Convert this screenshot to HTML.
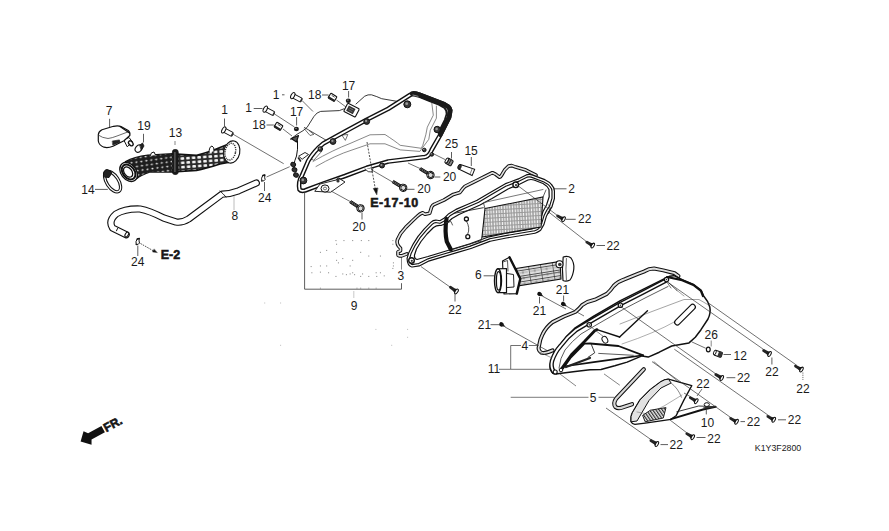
<!DOCTYPE html>
<html><head><meta charset="utf-8"><style>
html,body{margin:0;padding:0;background:#fff;}
svg{display:block;font-family:"Liberation Sans",sans-serif;}
text{fill:#1a1a1a;}
</style></head><body>
<svg width="889" height="531" viewBox="0 0 889 531">
<rect width="889" height="531" fill="#fff"/>
<line x1="109.6" y1="118.8" x2="109.6" y2="128.0" stroke="#333" stroke-width="0.8"/>
<line x1="143.5" y1="133.8" x2="143.5" y2="142.5" stroke="#333" stroke-width="0.8"/>
<line x1="95.0" y1="189.4" x2="107.8" y2="189.4" stroke="#333" stroke-width="0.8"/>
<line x1="175.0" y1="141.0" x2="175.0" y2="145.0" stroke="#333" stroke-width="0.6"/>
<path d="M124,139.5 L129,137.5 L132.5,142 L127.5,146.5 Z" stroke="#111" stroke-width="1" fill="#fff" stroke-linejoin="round" stroke-linecap="round" />
<ellipse cx="130.8" cy="143.3" rx="1.9" ry="2.8" transform="rotate(-40 130.8 143.3)" fill="#fff" stroke="#111" stroke-width="1.3"/>
<path d="M98.3,134.8 Q98.5,131.5 102,129.8 L113.5,126.3 Q118,125.3 121,126.5 L128.2,130.5 Q130.5,132.5 129.8,135.5 L124,140.8 L113,146.2 Q108,148.2 104,147.2 Q99,145.5 98.3,141 Z" stroke="#111" stroke-width="1.2" fill="#fff" stroke-linejoin="round" stroke-linecap="round" />
<path d="M99,135.5 Q102,137.8 108,138.5 Q112,138 117,136 L129,131.5" stroke="#444" stroke-width="0.8" fill="none" stroke-linejoin="round" stroke-linecap="round" />
<path d="M120,126.5 L129.5,133" stroke="#111" stroke-width="1.3" fill="none" stroke-linejoin="round" stroke-linecap="round" />
<path d="M112.6,141 L119.4,139.9 L120,142.3 L113,145 Z" stroke="#111" stroke-width="0.6" fill="#222" stroke-linejoin="round" stroke-linecap="round" />
<ellipse cx="138.6" cy="148.6" rx="3" ry="4" transform="rotate(40 138.6 148.6)" fill="#fff" stroke="#111" stroke-width="1.1"/>
<path d="M140,145 L142.5,143 L144,146 L141.5,150 Z" stroke="#111" stroke-width="0.8" fill="#222" stroke-linejoin="round" stroke-linecap="round" />
<g transform="translate(112.6,181.6) rotate(57)"><ellipse rx="11.6" ry="5.9" fill="none" stroke="#111" stroke-width="3.3"/><ellipse rx="11.6" ry="5.9" fill="none" stroke="#fff" stroke-width="1.2"/></g>
<path d="M103.5,173.5 Q104,169.5 107.5,169.5 L112,172.5 L109,177.5 L104.5,177 Z" stroke="#111" stroke-width="1" fill="#222" stroke-linejoin="round" stroke-linecap="round" />
<defs><pattern id="hosegrid" width="5.6" height="4.3" patternUnits="userSpaceOnUse" patternTransform="rotate(-4) translate(0,1)"><rect width="5.6" height="4.3" fill="#2a2a2a"/><rect x="1.1" y="0.9" width="3.6" height="2.5" rx="0.8" fill="#f2f2f2"/></pattern><pattern id="hosegrid2" width="5" height="4.3" patternUnits="userSpaceOnUse" patternTransform="rotate(-8) translate(0,1)"><rect width="5" height="4.3" fill="#1e1e1e"/><rect x="1.5" y="1.4" width="2" height="1.6" rx="0.6" fill="#e8e8e8"/></pattern><clipPath id="hoseclip"><path d="M125.7,161.7 Q134,157 147.8,155.4 L173,153.9 L196.6,155.4 Q210,152 220,147.6 L229.7,143.6 L232.8,161.7 L220,164 Q205,169 196.6,170.4 L173,172 L149.4,172 Q141,175 136.8,178.3 Z"/></clipPath></defs>
<path d="M125.7,161.7 Q134,157 147.8,155.4 L173,153.9 L196.6,155.4 Q210,152 220,147.6 L229.7,143.6 L232.8,161.7 L220,164 Q205,169 196.6,170.4 L173,172 L149.4,172 Q141,175 136.8,178.3 Z" fill="url(#hosegrid)" stroke="#111" stroke-width="1.6"/>
<g clip-path="url(#hoseclip)"><rect x="120" y="140" width="52" height="45" fill="url(#hosegrid2)"/></g>
<g transform="translate(128.6,172) rotate(52)"><ellipse rx="10.6" ry="7.6" fill="#fff" stroke="#111" stroke-width="1.3"/><ellipse rx="8.3" ry="5.8" fill="#fff" stroke="#111" stroke-width="2"/><ellipse cx="-0.3" cy="0.4" rx="5.7" ry="3.8" fill="#fff" stroke="#111" stroke-width="1.3"/></g>
<g transform="translate(231.8,152) rotate(12)"><ellipse rx="8" ry="11.2" fill="#fff" stroke="#111" stroke-width="1.1"/><ellipse cx="-1.5" rx="5.2" ry="8.5" fill="none" stroke="#333" stroke-width="1.4" stroke-dasharray="1.2 1"/></g>
<rect x="172.4" y="149.5" width="5.8" height="25" rx="2.4" fill="#1a1a1a" stroke="#111" stroke-width="0.8"/>
<rect x="174.3" y="152" width="1.2" height="20" fill="#666"/>
<path d="M150,156 Q151,151.5 154,152 L155.5,155" stroke="#111" stroke-width="1" fill="#fff" stroke-linejoin="round" stroke-linecap="round" />
<path d="M209,153 Q209,146.5 212,146 Q214.5,147 214,151" stroke="#111" stroke-width="1" fill="#fff" stroke-linejoin="round" stroke-linecap="round" />
<path d="M256.3,183 L238.6,190.8 Q230,194 222,194.2 L188.6,219 Q182,223 176,222 L163.7,218 Q150,211 140,209 Q125,208.5 116,214 Q108,221 112.5,228 L126.2,234.7" fill="none" stroke="#111" stroke-width="7.2" stroke-linecap="round" stroke-linejoin="round"/>
<path d="M256.3,183 L238.6,190.8 Q230,194 222,194.2 L188.6,219 Q182,223 176,222 L163.7,218 Q150,211 140,209 Q125,208.5 116,214 Q108,221 112.5,228 L126.2,234.7" fill="none" stroke="#fff" stroke-width="5" stroke-linecap="round" stroke-linejoin="round"/>
<path d="M117.5,228.5 L116.5,230.8" stroke="#111" stroke-width="1" fill="none" stroke-linejoin="round" stroke-linecap="round" />
<ellipse cx="126.8" cy="234.6" rx="1.5" ry="2.7" transform="rotate(30 126.8 234.6)" fill="#fff" stroke="#111" stroke-width="1.1"/>
<path d="M220,191 Q223,193.5 226,197" stroke="#111" stroke-width="0.9" fill="none" stroke-linejoin="round" stroke-linecap="round" />
<line x1="234.0" y1="196.5" x2="234.0" y2="210.0" stroke="#555" stroke-width="0.8" stroke-dasharray="1 1"/>
<path d="M261.8,181 Q260.8,178 262.8,175.5 L264.90000000000003,175 Q264.3,177.5 265.1,179.5 Q264.3,181.5 261.8,181 Z" stroke="#111" stroke-width="1" fill="#fff" stroke-linejoin="round" stroke-linecap="round" />
<path d="M262.8,175.5 L264.90000000000003,175" stroke="#111" stroke-width="1.3" fill="none" stroke-linejoin="round" stroke-linecap="round" />
<path d="M136.2,244.5 Q135.2,241.5 137.2,239.0 L139.29999999999998,238.5 Q138.7,241.0 139.5,243.0 Q138.7,245.0 136.2,244.5 Z" stroke="#111" stroke-width="1" fill="#fff" stroke-linejoin="round" stroke-linecap="round" />
<path d="M137.2,239.0 L139.29999999999998,238.5" stroke="#111" stroke-width="1.3" fill="none" stroke-linejoin="round" stroke-linecap="round" />
<line x1="264.5" y1="182.0" x2="264.5" y2="191.0" stroke="#333" stroke-width="0.8"/>
<line x1="137.8" y1="245.5" x2="137.8" y2="256.0" stroke="#333" stroke-width="0.8"/>
<line x1="266.5" y1="177.0" x2="289.7" y2="166.7" stroke="#333" stroke-width="0.7"/>
<line x1="140.5" y1="243.5" x2="154.0" y2="251.2" stroke="#222" stroke-width="0.8" stroke-dasharray="1.6 1"/>
<path d="M157,252.6 L152.5,251.9 L154,249.2 Z" stroke="#111" stroke-width="0.4" fill="#111" stroke-linejoin="round" stroke-linecap="round" />
<g transform="translate(223.5,129.8) rotate(28)"><rect x="0" y="-2.1" width="10" height="4.2" rx="1" fill="#fff" stroke="#111" stroke-width="1"/><ellipse cx="0.3" cy="0" rx="1.7" ry="3.4" fill="#fff" stroke="#111" stroke-width="1"/><ellipse cx="10" cy="0" rx="0.9" ry="2.1" fill="#333"/></g>
<g transform="translate(265,109) rotate(28)"><rect x="0" y="-2.1" width="10" height="4.2" rx="1" fill="#fff" stroke="#111" stroke-width="1"/><ellipse cx="0.3" cy="0" rx="1.7" ry="3.4" fill="#fff" stroke="#111" stroke-width="1"/><ellipse cx="10" cy="0" rx="0.9" ry="2.1" fill="#333"/></g>
<g transform="translate(292.5,95.5) rotate(28)"><rect x="0" y="-2.1" width="10" height="4.2" rx="1" fill="#fff" stroke="#111" stroke-width="1"/><ellipse cx="0.3" cy="0" rx="1.7" ry="3.4" fill="#fff" stroke="#111" stroke-width="1"/><ellipse cx="10" cy="0" rx="0.9" ry="2.1" fill="#333"/></g>
<line x1="224.5" y1="118.5" x2="224.5" y2="126.5" stroke="#333" stroke-width="0.8"/>
<line x1="253.7" y1="108.5" x2="262.5" y2="108.5" stroke="#333" stroke-width="0.8"/>
<line x1="282.0" y1="94.8" x2="284.5" y2="94.8" stroke="#333" stroke-width="0.8"/>
<line x1="233.0" y1="134.2" x2="283.7" y2="163.7" stroke="#333" stroke-width="0.7"/>
<line x1="274.5" y1="114.0" x2="294.5" y2="127.0" stroke="#333" stroke-width="0.7"/>
<line x1="302.0" y1="100.5" x2="313.0" y2="111.5" stroke="#333" stroke-width="0.7"/>
<g transform="translate(278.5,126.3) rotate(32)"><rect x="-3.6" y="-2.8" width="7.2" height="5.6" rx="0.8" fill="#fff" stroke="#111" stroke-width="1.1"/><rect x="-3.6" y="1" width="7.2" height="1.8" fill="#222"/><path d="M-1.8,-1.2 L1.8,-1.2" stroke="#444" stroke-width="0.8"/></g>
<g transform="translate(332.5,97.3) rotate(32)"><rect x="-3.6" y="-2.8" width="7.2" height="5.6" rx="0.8" fill="#fff" stroke="#111" stroke-width="1.1"/><rect x="-3.6" y="1" width="7.2" height="1.8" fill="#222"/><path d="M-1.8,-1.2 L1.8,-1.2" stroke="#444" stroke-width="0.8"/></g>
<line x1="266.5" y1="125.0" x2="273.8" y2="125.0" stroke="#333" stroke-width="0.8"/>
<line x1="322.0" y1="95.0" x2="328.6" y2="95.0" stroke="#333" stroke-width="0.8"/>
<line x1="283.0" y1="129.0" x2="292.0" y2="136.0" stroke="#333" stroke-width="0.7"/>
<line x1="336.5" y1="100.0" x2="346.0" y2="107.0" stroke="#333" stroke-width="0.7"/>
<ellipse cx="296.4" cy="129" rx="2.5" ry="2.3" fill="#1a1a1a"/>
<ellipse cx="296.0" cy="128.3" rx="1" ry="0.6" fill="#888"/>
<ellipse cx="348.3" cy="100.8" rx="2.5" ry="2.3" fill="#1a1a1a"/>
<ellipse cx="347.90000000000003" cy="100.1" rx="1" ry="0.6" fill="#888"/>
<line x1="296.6" y1="117.0" x2="296.6" y2="125.5" stroke="#333" stroke-width="0.8"/>
<line x1="348.6" y1="91.0" x2="348.6" y2="97.5" stroke="#333" stroke-width="0.8"/>
<path d="M290.8,139 L297,134.3 Q304,130.5 307,127.5 L313.9,116.5 Q317,112 320.7,111.4 L339.3,110.6 L344,108.8 M356,104 L364.7,96.2 Q368,94.3 371.5,94.8 Q377,96.5 381.7,98.7 L398,101.5 L409,97" stroke="#222" stroke-width="0.9" fill="none" stroke-linejoin="round" stroke-linecap="round" />
<g transform="translate(351.5,110.2) rotate(27)"><rect x="-6.5" y="-4.6" width="13" height="9.2" rx="1" fill="#fff" stroke="#111" stroke-width="1.1"/><rect x="-4.5" y="-3" width="7.5" height="6" fill="#333"/><path d="M-3,-1 L1.5,-1 M-3,1 L1.5,1" stroke="#888" stroke-width="0.6"/></g>
<path d="M290.8,139 Q296,137 297.5,141 Q298,150 296.5,156 Q294.5,161 294,164" stroke="#111" stroke-width="1" fill="none" stroke-linejoin="round" stroke-linecap="round" />
<path d="M291.2,138.5 L298.5,135.5 L296.5,142 Z" stroke="#111" stroke-width="1.1" fill="#555" stroke-linejoin="round" stroke-linecap="round" />
<path d="M304.4,127.5 L326.1,140.2" stroke="#222" stroke-width="0.8" fill="none" stroke-linejoin="round" stroke-linecap="round" />
<path d="M304.4,128.9 L310.1,135.5 L313.9,134.3 L309.5,131" stroke="#333" stroke-width="0.7" fill="none" stroke-linejoin="round" stroke-linecap="round" />
<path d="M342.2,135 L347.8,134.5 L345.5,140 Z" stroke="#333" stroke-width="0.7" fill="#fff" stroke-linejoin="round" stroke-linecap="round" />
<path d="M310,158 L318,150 L322,151 L314,160 Z" stroke="#333" stroke-width="0.7" fill="#fff" stroke-linejoin="round" stroke-linecap="round" />
<path d="M313,161.5 Q333,150 350,143.5 L370,134.8 L385,134.5 Q395,141 400.2,145.3 L421.3,148.3 L422.8,145.3 L425.8,134.8 L427.3,127.2 L433.3,115.2 L431.8,103.1" stroke="#555" stroke-width="0.7" fill="none" stroke-linejoin="round" stroke-linecap="round" />
<path d="M316,166.5 Q336,155 352,150 L370,143.8 L385,143.8 L400.2,149.9 L419.8,151.4 L428.8,139.3 L430.3,130.2 L436.4,118.2 L436.4,106.1" stroke="#555" stroke-width="0.7" fill="none" stroke-linejoin="round" stroke-linecap="round" />
<path d="M299.5,189.5 Q298,182 301.7,176 L308.2,160.8 Q314,151 323.3,143.5 L345,131.6 L366.7,119.7 L388.3,108.8 L410,95 Q414.3,92.5 418.6,94.5 L444.6,104.5 Q451,107.5 450,112 L449,117.5 L440.3,134.8 L431.6,150 Q429.5,156 425,157 L388.3,161.5 L366.7,167.8 L345,176 L323.3,183.6 L305,190.5 Q301,191.5 299.5,189.5 Z" fill="none" stroke="#111" stroke-width="4.6" stroke-linejoin="round"/>
<path d="M299.5,189.5 Q298,182 301.7,176 L308.2,160.8 Q314,151 323.3,143.5 L345,131.6 L366.7,119.7 L388.3,108.8 L410,95 Q414.3,92.5 418.6,94.5 L444.6,104.5 Q451,107.5 450,112 L449,117.5 L440.3,134.8 L431.6,150 Q429.5,156 425,157 L388.3,161.5 L366.7,167.8 L345,176 L323.3,183.6 L305,190.5 Q301,191.5 299.5,189.5 Z" fill="none" stroke="#fff" stroke-width="1.8" stroke-linejoin="round"/>
<path d="M412,93.6 Q414.3,92.5 418.6,94.5 L444.6,104.5 Q451,107.5 450,112 L449,117.5 L440.3,134.8" stroke="#1a1a1a" stroke-width="4.6" fill="none" stroke-linejoin="round" stroke-linecap="round" />
<path d="M413,95.5 L419.2,97 L429,100.8 L438.8,104.7 L444.5,108 Q447,110.5 446.6,114 L444.8,119.8 L441.5,126.5 L438.5,133" stroke="#1a1a1a" stroke-width="1.8" fill="none" stroke-linejoin="round" stroke-linecap="round" />
<path d="M413,95 L418,96.3" stroke="#888" stroke-width="1" fill="none" stroke-linejoin="round" stroke-linecap="round" />
<circle cx="366.7" cy="121.5" r="2.9" fill="#3a3a3a" stroke="#111" stroke-width="1"/>
<circle cx="366.09999999999997" cy="120.9" r="1.1" fill="#999"/>
<circle cx="333" cy="141.5" r="2.9" fill="#3a3a3a" stroke="#111" stroke-width="1"/>
<circle cx="332.4" cy="140.9" r="1.1" fill="#999"/>
<circle cx="407.3" cy="104.3" r="3.5" fill="#3a3a3a" stroke="#111" stroke-width="1"/>
<circle cx="406.7" cy="103.7" r="1.4" fill="#999"/>
<circle cx="437.2" cy="129.5" r="3.2" fill="#3a3a3a" stroke="#111" stroke-width="1"/>
<circle cx="436.59999999999997" cy="128.9" r="1.3" fill="#999"/>
<circle cx="424.3" cy="150" r="1.8" fill="#3a3a3a" stroke="#111" stroke-width="1"/>
<circle cx="423.7" cy="149.4" r="0.7" fill="#999"/>
<circle cx="431.8" cy="154.4" r="1.8" fill="#3a3a3a" stroke="#111" stroke-width="1"/>
<circle cx="431.2" cy="153.8" r="0.7" fill="#999"/>
<circle cx="382" cy="165.5" r="2.5" fill="#3a3a3a" stroke="#111" stroke-width="1"/>
<circle cx="381.4" cy="164.9" r="1.0" fill="#999"/>
<circle cx="303.4" cy="180.5" r="3.4" fill="#3a3a3a" stroke="#111" stroke-width="1"/>
<circle cx="302.79999999999995" cy="179.9" r="1.3" fill="#999"/>
<circle cx="338.6" cy="180" r="2.0" fill="#3a3a3a" stroke="#111" stroke-width="1"/>
<circle cx="338.0" cy="179.4" r="0.8" fill="#999"/>
<circle cx="320.3" cy="149" r="2.3" fill="#3a3a3a" stroke="#111" stroke-width="1"/>
<circle cx="319.7" cy="148.4" r="0.9" fill="#999"/>
<ellipse cx="293.2" cy="164.5" rx="2.4" ry="2.1" transform="rotate(30 293.2 164.5)" fill="#333" stroke="#111" stroke-width="1"/>
<ellipse cx="294.5" cy="169.8" rx="2.4" ry="2.1" transform="rotate(30 294.5 169.8)" fill="#333" stroke="#111" stroke-width="1"/>
<ellipse cx="296" cy="175" rx="2.4" ry="2.1" transform="rotate(30 296 175)" fill="#333" stroke="#111" stroke-width="1"/>
<path d="M299,156 L305,152.5 L308.5,154.5 L302.5,159 Z" stroke="#111" stroke-width="0.9" fill="#fff" stroke-linejoin="round" stroke-linecap="round" />
<path d="M298.5,158 L300.5,161" stroke="#222" stroke-width="1.6" fill="none" stroke-linejoin="round" stroke-linecap="round" />
<path d="M315,191 L320,184 L340,179 L345,182 L331,192 Z" stroke="#111" stroke-width="0.9" fill="#fff" stroke-linejoin="round" stroke-linecap="round" />
<ellipse cx="325" cy="188.5" rx="4" ry="3.6" fill="#fff" stroke="#111" stroke-width="1"/>
<ellipse cx="325" cy="188.5" rx="1.6" ry="1.4" fill="#fff" stroke="#333" stroke-width="0.7"/>
<circle cx="338" cy="181" r="1.6" fill="#333"/>
<path d="M365,169 Q368,173 372,172 L373,168" stroke="#111" stroke-width="0.8" fill="#fff" stroke-linejoin="round" stroke-linecap="round" />
<g transform="translate(430.5,175.0) rotate(211.0)"><rect x="2" y="-1.35" width="10.0" height="2.7" fill="#666" stroke="#111" stroke-width="0.8"/><path d="M4,-1.3 L4.6,1.3 M6,-1.3 L6.6,1.3 M8,-1.3 L8.6,1.3 M10,-1.3 L10.6,1.3" stroke="#111" stroke-width="0.7"/><circle cx="0" cy="0" r="3.6" fill="#fff" stroke="#111" stroke-width="1.1"/><path d="M-1.8,-2.2 L1.2,-2.4 L2.6,0 L1.2,2.4 L-1.8,2.2 L-2.6,0 Z" fill="#ddd" stroke="#111" stroke-width="0.9"/></g>
<g transform="translate(403.2,187.8) rotate(211.0)"><rect x="2" y="-1.35" width="10.0" height="2.7" fill="#666" stroke="#111" stroke-width="0.8"/><path d="M4,-1.3 L4.6,1.3 M6,-1.3 L6.6,1.3 M8,-1.3 L8.6,1.3 M10,-1.3 L10.6,1.3" stroke="#111" stroke-width="0.7"/><circle cx="0" cy="0" r="3.6" fill="#fff" stroke="#111" stroke-width="1.1"/><path d="M-1.8,-2.2 L1.2,-2.4 L2.6,0 L1.2,2.4 L-1.8,2.2 L-2.6,0 Z" fill="#ddd" stroke="#111" stroke-width="0.9"/></g>
<g transform="translate(360.5,208.3) rotate(213.0)"><rect x="2" y="-1.35" width="10.0" height="2.7" fill="#666" stroke="#111" stroke-width="0.8"/><path d="M4,-1.3 L4.6,1.3 M6,-1.3 L6.6,1.3 M8,-1.3 L8.6,1.3 M10,-1.3 L10.6,1.3" stroke="#111" stroke-width="0.7"/><circle cx="0" cy="0" r="3.6" fill="#fff" stroke="#111" stroke-width="1.1"/><path d="M-1.8,-2.2 L1.2,-2.4 L2.6,0 L1.2,2.4 L-1.8,2.2 L-2.6,0 Z" fill="#ddd" stroke="#111" stroke-width="0.9"/></g>
<line x1="434.4" y1="177.0" x2="440.3" y2="177.0" stroke="#333" stroke-width="0.8"/>
<line x1="406.0" y1="189.3" x2="414.5" y2="189.3" stroke="#333" stroke-width="0.8"/>
<line x1="362.0" y1="212.5" x2="362.0" y2="219.5" stroke="#333" stroke-width="0.8"/>
<line x1="420.0" y1="168.5" x2="408.0" y2="163.0" stroke="#333" stroke-width="0.7"/>
<line x1="392.5" y1="182.0" x2="371.0" y2="169.5" stroke="#333" stroke-width="0.7"/>
<line x1="351.0" y1="202.0" x2="331.0" y2="191.0" stroke="#333" stroke-width="0.7"/>
<g transform="translate(449.3,162) rotate(30)"><rect x="-3.2" y="-3" width="6.4" height="6" rx="1.2" fill="#888" stroke="#111" stroke-width="1"/><path d="M-1.5,-3 L-1.5,3 M0.5,-3 L0.5,3" stroke="#111" stroke-width="0.8"/><ellipse cx="-3" cy="0" rx="1.2" ry="2.8" fill="#fff" stroke="#111" stroke-width="0.9"/></g>
<line x1="451.5" y1="152.0" x2="451.5" y2="158.5" stroke="#333" stroke-width="0.8"/>
<line x1="445.0" y1="159.5" x2="432.0" y2="153.0" stroke="#333" stroke-width="0.7"/>
<g transform="translate(459.5,166.8) rotate(22)"><path d="M0,-2.4 L15,-3.4 L15,3.4 L0,2.4 Z" fill="#fff" stroke="#111" stroke-width="1"/><ellipse cx="0" cy="0" rx="1.6" ry="2.5" fill="#333" stroke="#111" stroke-width="0.8"/><path d="M12.5,-3.2 L12.5,3.2" stroke="#555" stroke-width="0.7"/></g>
<line x1="471.3" y1="157.0" x2="471.3" y2="166.0" stroke="#333" stroke-width="0.8"/>
<line x1="367.0" y1="142.0" x2="375.5" y2="190.0" stroke="#222" stroke-width="0.8" stroke-dasharray="2 1.3"/>
<path d="M376.6,194.5 L373.3,188.5 L377.6,188 Z" stroke="#111" stroke-width="0.5" fill="#111" stroke-linejoin="round" stroke-linecap="round" />
<line x1="304.6" y1="192.0" x2="304.6" y2="289.2" stroke="#333" stroke-width="0.8"/>
<line x1="304.6" y1="289.2" x2="401.5" y2="289.2" stroke="#333" stroke-width="0.8"/>
<line x1="401.5" y1="283.2" x2="401.5" y2="289.2" stroke="#333" stroke-width="0.8"/>
<line x1="353.8" y1="291.5" x2="353.8" y2="298.0" stroke="#666" stroke-width="0.7" stroke-dasharray="1 1"/>
<line x1="401.5" y1="257.0" x2="401.5" y2="269.6" stroke="#555" stroke-width="0.7"/>
<rect x="264.2" y="302.5" width="1" height="1" fill="#bbb"/>
<rect x="280.1" y="302.5" width="1" height="1" fill="#bbb"/>
<rect x="375.4" y="328.9" width="1" height="1" fill="#bbb"/>
<rect x="407.1" y="328.9" width="1" height="1" fill="#bbb"/>
<rect x="407.1" y="336.8" width="1" height="1" fill="#bbb"/>
<rect x="280.1" y="344.8" width="1" height="1" fill="#bbb"/>
<rect x="391.2" y="344.8" width="1" height="1" fill="#bbb"/>
<rect x="335.4" y="240.0" width="1.1" height="1.1" fill="#999"/>
<rect x="336.0" y="243.7" width="1.1" height="1.1" fill="#999"/>
<rect x="343.4" y="240.0" width="1.1" height="1.1" fill="#999"/>
<rect x="352.1" y="240.0" width="1.1" height="1.1" fill="#999"/>
<rect x="360.8" y="240.0" width="1.1" height="1.1" fill="#999"/>
<rect x="368.2" y="240.0" width="1.1" height="1.1" fill="#999"/>
<rect x="392.3" y="240.0" width="1.1" height="1.1" fill="#999"/>
<rect x="392.3" y="243.7" width="1.1" height="1.1" fill="#999"/>
<rect x="326.1" y="249.9" width="1.1" height="1.1" fill="#999"/>
<rect x="319.9" y="251.8" width="1.1" height="1.1" fill="#999"/>
<rect x="336.0" y="251.8" width="1.1" height="1.1" fill="#999"/>
<rect x="360.1" y="251.8" width="1.1" height="1.1" fill="#999"/>
<rect x="368.2" y="255.5" width="1.1" height="1.1" fill="#999"/>
<rect x="379.9" y="255.5" width="1.1" height="1.1" fill="#999"/>
<rect x="342.2" y="258.0" width="1.1" height="1.1" fill="#999"/>
<rect x="336.0" y="259.8" width="1.1" height="1.1" fill="#999"/>
<rect x="352.1" y="259.8" width="1.1" height="1.1" fill="#999"/>
<rect x="337.9" y="262.3" width="1.1" height="1.1" fill="#999"/>
<rect x="319.9" y="265.4" width="1.1" height="1.1" fill="#999"/>
<rect x="326.1" y="265.4" width="1.1" height="1.1" fill="#999"/>
<rect x="310.6" y="266.0" width="1.1" height="1.1" fill="#999"/>
<rect x="349.6" y="265.4" width="1.1" height="1.1" fill="#999"/>
<rect x="392.9" y="262.3" width="1.1" height="1.1" fill="#999"/>
<rect x="392.9" y="265.4" width="1.1" height="1.1" fill="#999"/>
<rect x="392.3" y="267.9" width="1.1" height="1.1" fill="#999"/>
<rect x="311.3" y="272.2" width="1.1" height="1.1" fill="#999"/>
<rect x="319.9" y="271.6" width="1.1" height="1.1" fill="#999"/>
<rect x="328.0" y="272.2" width="1.1" height="1.1" fill="#999"/>
<rect x="335.4" y="275.9" width="1.1" height="1.1" fill="#999"/>
<rect x="342.2" y="273.4" width="1.1" height="1.1" fill="#999"/>
<rect x="345.9" y="274.1" width="1.1" height="1.1" fill="#999"/>
<rect x="349.6" y="273.4" width="1.1" height="1.1" fill="#999"/>
<rect x="352.1" y="272.2" width="1.1" height="1.1" fill="#999"/>
<rect x="354.0" y="274.1" width="1.1" height="1.1" fill="#999"/>
<rect x="360.1" y="275.9" width="1.1" height="1.1" fill="#999"/>
<rect x="362.0" y="273.4" width="1.1" height="1.1" fill="#999"/>
<rect x="368.2" y="275.9" width="1.1" height="1.1" fill="#999"/>
<rect x="375.6" y="272.2" width="1.1" height="1.1" fill="#999"/>
<rect x="376.2" y="275.9" width="1.1" height="1.1" fill="#999"/>
<rect x="379.9" y="272.2" width="1.1" height="1.1" fill="#999"/>
<rect x="383.7" y="275.3" width="1.1" height="1.1" fill="#999"/>
<rect x="319.9" y="287.7" width="1.1" height="1.1" fill="#999"/>
<rect x="356.4" y="287.7" width="1.1" height="1.1" fill="#999"/>
<rect x="360.1" y="287.7" width="1.1" height="1.1" fill="#999"/>
<rect x="368.2" y="287.7" width="1.1" height="1.1" fill="#999"/>
<rect x="375.6" y="287.7" width="1.1" height="1.1" fill="#999"/>
<path d="M406.8,253.9 L401.6,255.9 Q398,256 398,254.9 L398,251.8 L400.5,250.8 L400.5,248.2 L398.5,246.1 Q396.5,243.5 397.4,239.9 L400.5,233.7 L405.7,227.4 L412,221.2 L417,216.5 Q420,213.5 422.6,212.7 L425,214.2 L429.7,213.3 L431.6,207 Q432.5,205 434.4,204.3 L443.9,200.1 L453.3,194.4 L459.9,192.5 L462.7,188.8 L465.1,186.3 L475.2,181.3 L485.4,176.2 L492.4,172.7 L495.5,174.2 L499.5,177.2 Q500.5,177 501.6,175.2 L504.6,170.1 L508.6,166.1 L511.7,165.6 L515.7,167.1 L525.9,170.1 L536,175.2" fill="none" stroke="#111" stroke-width="3.6" stroke-linejoin="round" stroke-linecap="round"/>
<path d="M406.8,253.9 L401.6,255.9 Q398,256 398,254.9 L398,251.8 L400.5,250.8 L400.5,248.2 L398.5,246.1 Q396.5,243.5 397.4,239.9 L400.5,233.7 L405.7,227.4 L412,221.2 L417,216.5 Q420,213.5 422.6,212.7 L425,214.2 L429.7,213.3 L431.6,207 Q432.5,205 434.4,204.3 L443.9,200.1 L453.3,194.4 L459.9,192.5 L462.7,188.8 L465.1,186.3 L475.2,181.3 L485.4,176.2 L492.4,172.7 L495.5,174.2 L499.5,177.2 Q500.5,177 501.6,175.2 L504.6,170.1 L508.6,166.1 L511.7,165.6 L515.7,167.1 L525.9,170.1 L536,175.2" fill="none" stroke="#e4e4e4" stroke-width="1.6" stroke-linejoin="round" stroke-linecap="round"/>
<path d="M412,265.8 Q408.5,265 408.3,258.5 L409.9,253.3 L414,245 L419.2,236.8 L425.4,229.5 L431.6,223.3 Q434,221 437,221.5 L440,222 L445,219.1 L449.4,214.8 L456.5,210.5 L467.8,205.6 L477.7,201.4 L490,194 L506,184.8 L518.8,180 L526.8,176 Q529,175.2 531.6,176 L544.4,180.8 Q549,183 550.8,185.6 Q553.5,188.5 553.2,192 L553.2,198.4 L550.8,206.4 L547.6,211.2 L545.2,216 L542.8,224 L539.6,229.6 Q537,231.5 534.8,232 L506,236.8 L490,240 L470.6,247.3 L456.5,251.5 L442.4,255.7 L428.2,260 L419.2,264.7 Z" fill="#fff" stroke="none"/>
<path d="M412,265.8 Q408.5,265 408.3,258.5 L409.9,253.3 L414,245 L419.2,236.8 L425.4,229.5 L431.6,223.3 Q434,221 437,221.5 L440,222 L445,219.1 L449.4,214.8 L456.5,210.5 L467.8,205.6 L477.7,201.4 L490,194 L506,184.8 L518.8,180 L526.8,176 Q529,175.2 531.6,176 L544.4,180.8 Q549,183 550.8,185.6 Q553.5,188.5 553.2,192 L553.2,198.4 L550.8,206.4 L547.6,211.2 L545.2,216 L542.8,224 L539.6,229.6 Q537,231.5 534.8,232 L506,236.8 L490,240 L470.6,247.3 L456.5,251.5 L442.4,255.7 L428.2,260 L419.2,264.7 Z" fill="none" stroke="#111" stroke-width="3.6" stroke-linejoin="round" stroke-linecap="round"/>
<path d="M412,265.8 Q408.5,265 408.3,258.5 L409.9,253.3 L414,245 L419.2,236.8 L425.4,229.5 L431.6,223.3 Q434,221 437,221.5 L440,222 L445,219.1 L449.4,214.8 L456.5,210.5 L467.8,205.6 L477.7,201.4 L490,194 L506,184.8 L518.8,180 L526.8,176 Q529,175.2 531.6,176 L544.4,180.8 Q549,183 550.8,185.6 Q553.5,188.5 553.2,192 L553.2,198.4 L550.8,206.4 L547.6,211.2 L545.2,216 L542.8,224 L539.6,229.6 Q537,231.5 534.8,232 L506,236.8 L490,240 L470.6,247.3 L456.5,251.5 L442.4,255.7 L428.2,260 L419.2,264.7 Z" fill="none" stroke="#fff" stroke-width="1.3" stroke-linejoin="round" stroke-linecap="round"/>
<path d="M417,259.5 Q414,259 414.5,255 L416.5,249 L421,241.5 L427,234 L433.5,227.5 Q437,225 441,225.5 L447,223 L452,218.5 L459,214.5 L470,209.5 L480,205 L492,198.5 L508,189 L520,184 L528,180 Q531,179 534,180 L543,183.5 Q547.5,186 549,189.5 L549.2,196.8 L546.5,205 L543,211.5 L540.5,219 L537.5,226 Q536,228.5 532,229 L505,233.5 L489,236.8 L470,243.8 L456,248 L442,252.2 L428,256.5 Z" fill="none" stroke="#111" stroke-width="1.2" stroke-linejoin="round"/>
<defs><pattern id="mesh" width="2.7" height="4" patternUnits="userSpaceOnUse" patternTransform="rotate(-3)"><rect width="2.7" height="4" fill="#999"/><path d="M1.35,0 V3" stroke="#f6f6f6" stroke-width="1.3"/></pattern></defs>
<path d="M485,208.5 L543,197 L541,227 L482,237 Z" fill="url(#mesh)" stroke="#111" stroke-width="1.1"/>
<path d="M484,202.5 L543,189.5" stroke="#555" stroke-width="0.8" fill="none" stroke-linejoin="round" stroke-linecap="round" />
<path d="M485,208.5 L483.5,203 M543,197 L546,190" stroke="#333" stroke-width="0.8" fill="none" stroke-linejoin="round" stroke-linecap="round" />
<path d="M482,237 L480.5,242" stroke="#333" stroke-width="0.9" fill="none" stroke-linejoin="round" stroke-linecap="round" />
<path d="M446.5,219 Q444.5,231 446.8,241.6 L450.8,249.4" stroke="#111" stroke-width="4.2" fill="none" stroke-linejoin="round" stroke-linecap="round" />
<path d="M453.7,213.4 L483.3,207.7" stroke="#222" stroke-width="0.9" fill="none" stroke-linejoin="round" stroke-linecap="round" />
<path d="M452.5,249.5 L480,241" stroke="#222" stroke-width="0.9" fill="none" stroke-linejoin="round" stroke-linecap="round" />
<path d="M466.4,221 Q470.5,228 467.8,234" stroke="#222" stroke-width="0.8" fill="none" stroke-linejoin="round" stroke-linecap="round" />
<circle cx="466.4" cy="219" r="2" fill="#fff" stroke="#111" stroke-width="1.3"/>
<circle cx="467.8" cy="236.7" r="2" fill="#fff" stroke="#111" stroke-width="1.3"/>
<path d="M446,223 L451,221.5 L452.5,225" stroke="#333" stroke-width="0.8" fill="none" stroke-linejoin="round" stroke-linecap="round" />
<circle cx="411.5" cy="260.5" r="2.8" fill="#fff" stroke="#111" stroke-width="1.4"/>
<circle cx="411.8" cy="260.8" r="1.1" fill="#333"/>
<circle cx="515.7" cy="184.8" r="2.8" fill="#fff" stroke="#111" stroke-width="1.4"/>
<circle cx="516.0" cy="185.10000000000002" r="1.1" fill="#333"/>
<path d="M549,205 Q552,210 548,214" stroke="#222" stroke-width="1" fill="none" stroke-linejoin="round" stroke-linecap="round" />
<line x1="553.6" y1="188.8" x2="566.5" y2="188.8" stroke="#333" stroke-width="0.8"/>
<g transform="translate(563.6,219.3) rotate(210.0)"><path d="M2,-1.6 L7.5,-1.3 L8.5,0 L7.5,1.3 L2,1.6 Z" fill="#222"/><path d="M0,-2.9 L2.8,-1.35 L2.8,1.35 L0,2.9 Z" fill="#1a1a1a"/><ellipse cx="0" cy="0" rx="1.25" ry="2.7" fill="#fff" stroke="#111" stroke-width="1"/></g>
<line x1="565.8" y1="219.3" x2="575.7" y2="219.3" stroke="#333" stroke-width="0.8"/>
<g transform="translate(592.8,245.6) rotate(210.0)"><path d="M2,-1.6 L7.5,-1.3 L8.5,0 L7.5,1.3 L2,1.6 Z" fill="#222"/><path d="M0,-2.9 L2.8,-1.35 L2.8,1.35 L0,2.9 Z" fill="#1a1a1a"/><ellipse cx="0" cy="0" rx="1.25" ry="2.7" fill="#fff" stroke="#111" stroke-width="1"/></g>
<line x1="596.5" y1="245.5" x2="605.0" y2="245.5" stroke="#333" stroke-width="0.8"/>
<line x1="547.6" y1="211.2" x2="588.8" y2="243.4" stroke="#333" stroke-width="0.7"/>
<line x1="519.0" y1="186.5" x2="558.5" y2="216.3" stroke="#333" stroke-width="0.7"/>
<g transform="translate(456.5,291.5) rotate(215.0)"><path d="M2,-1.6 L8.0,-1.3 L9.0,0 L8.0,1.3 L2,1.6 Z" fill="#222"/><path d="M0,-2.9 L2.8,-1.35 L2.8,1.35 L0,2.9 Z" fill="#1a1a1a"/><ellipse cx="0" cy="0" rx="1.25" ry="2.7" fill="#fff" stroke="#111" stroke-width="1"/></g>
<line x1="455.0" y1="294.0" x2="455.0" y2="301.5" stroke="#333" stroke-width="0.8"/>
<line x1="450.0" y1="287.0" x2="421.0" y2="266.6" stroke="#333" stroke-width="0.7"/>
<defs><pattern id="ductgrid" width="12" height="5.6" patternUnits="userSpaceOnUse" patternTransform="translate(0,1) rotate(-9)"><rect width="12" height="5.6" fill="#dedede"/><path d="M0,0 H12 M0,0 V5.6" stroke="#222" stroke-width="1.2"/><path d="M6,1.5 L6,4" stroke="#555" stroke-width="0.8"/><path d="M1,2.8 H11" stroke="#888" stroke-width="0.6"/></pattern></defs>
<path d="M516,268.5 L560,261.5 L561,279 L517,286 Z" fill="url(#ductgrid)" stroke="#111" stroke-width="1.1"/>
<path d="M517,279 L560,272" stroke="#444" stroke-width="0.7" fill="none" stroke-linejoin="round" stroke-linecap="round" />
<path d="M563.2,257 Q568,255.5 571,258 Q574.5,263 573.8,269 Q573,276 570,280 Q566,282 563,280.5 Q561.8,269 563.2,257 Z" stroke="#111" stroke-width="1.2" fill="#fff" stroke-linejoin="round" stroke-linecap="round" />
<path d="M566.4,258.5 Q565.5,269 566.4,280" stroke="#444" stroke-width="0.8" fill="none" stroke-linejoin="round" stroke-linecap="round" />
<circle cx="559.5" cy="264.2" r="3.5" fill="#fff" stroke="#111" stroke-width="1.1"/>
<circle cx="559.8" cy="264.5" r="1.8" fill="#333"/>
<path d="M502.5,261 L509.5,257.2 L520.3,278.8 L516.8,293.6 L504,294 Z" stroke="#111" stroke-width="1.1" fill="#fff" stroke-linejoin="round" stroke-linecap="round" />
<path d="M509.5,257.2 L520.3,278.8 L516.8,293.6" stroke="#111" stroke-width="2.4" fill="none" stroke-linejoin="round" stroke-linecap="round" />
<path d="M503,262 L507.5,260.5 L508,271" stroke="#333" stroke-width="0.8" fill="none" stroke-linejoin="round" stroke-linecap="round" />
<path d="M507,273.5 L513.5,274.5 L514,287 L507.5,287.5" stroke="#222" stroke-width="1" fill="none" stroke-linejoin="round" stroke-linecap="round" />
<path d="M498,268.9 L506.5,268.5 L506.5,292.7 L498,292.7" stroke="#111" stroke-width="1.2" fill="#fff" stroke-linejoin="round" stroke-linecap="round" />
<ellipse cx="498" cy="280.7" rx="3.5" ry="11.9" fill="#fff" stroke="#111" stroke-width="1.4"/>
<ellipse cx="498.6" cy="280.9" rx="2.2" ry="9.2" fill="#fff" stroke="#111" stroke-width="1.3"/>
<line x1="483.6" y1="275.8" x2="494.8" y2="275.8" stroke="#333" stroke-width="0.8"/>
<g transform="translate(539.5,294.0) rotate(32)"><ellipse cx="0" cy="0" rx="2.3" ry="2.1" fill="#111"/><path d="M0.5,-1.6 L5,0 L0.5,1.6 Z" fill="#1a1a1a"/></g>
<g transform="translate(563.2,304.0) rotate(32)"><ellipse cx="0" cy="0" rx="2.3" ry="2.1" fill="#111"/><path d="M0.5,-1.6 L5,0 L0.5,1.6 Z" fill="#1a1a1a"/></g>
<g transform="translate(501.4,324.40000000000003) rotate(32)"><ellipse cx="0" cy="0" rx="2.3" ry="2.1" fill="#111"/><path d="M0.5,-1.6 L5,0 L0.5,1.6 Z" fill="#1a1a1a"/></g>
<line x1="539.5" y1="297.0" x2="539.5" y2="303.5" stroke="#333" stroke-width="0.8"/>
<line x1="563.6" y1="295.5" x2="563.6" y2="301.5" stroke="#333" stroke-width="0.8"/>
<line x1="490.5" y1="324.7" x2="499.5" y2="324.7" stroke="#333" stroke-width="0.8"/>
<line x1="543.0" y1="296.5" x2="566.0" y2="309.0" stroke="#333" stroke-width="0.7"/>
<line x1="567.0" y1="306.5" x2="584.0" y2="316.0" stroke="#333" stroke-width="0.7"/>
<line x1="505.0" y1="327.0" x2="548.0" y2="351.0" stroke="#333" stroke-width="0.7"/>
<path d="M552.6,350.4 Q545,354 541.3,352.7 Q537.5,350 539,346 Q540,339 542.4,334.6 Q546,327 552.6,322.1 L563.9,316.5 L575.2,312 Q579,309 582,305.2 Q588,301 595.5,299.5 L606.8,293.9 Q611,290 613.6,286 Q618,281.5 625,279.2 L638.5,273.6 L644.5,271.3 Q649,268.5 654,268.5 L663.3,270.4 L674.6,273.2 L678.5,276" fill="none" stroke="#111" stroke-width="4.0" stroke-linejoin="round" stroke-linecap="round"/>
<path d="M552.6,350.4 Q545,354 541.3,352.7 Q537.5,350 539,346 Q540,339 542.4,334.6 Q546,327 552.6,322.1 L563.9,316.5 L575.2,312 Q579,309 582,305.2 Q588,301 595.5,299.5 L606.8,293.9 Q611,290 613.6,286 Q618,281.5 625,279.2 L638.5,273.6 L644.5,271.3 Q649,268.5 654,268.5 L663.3,270.4 L674.6,273.2 L678.5,276" fill="none" stroke="#e0e0e0" stroke-width="1.8" stroke-linejoin="round" stroke-linecap="round"/>
<path d="M552.6,373 Q549,369 550.3,364 Q553,352 559.4,345.9 Q566,336 575.2,327.8 L593.3,316.5 L620.4,300.7 L643,289.4 L665.6,278.1 Q670,275.5 674.6,275.8 L682.1,279.7 L693.4,284.4 L701,290.1 L703.5,295.8 Q708,301 709.8,307 Q711,313 708,319 L701,329.7 L695.3,337.2 L689,342.9 L671.7,346 L659.3,352.2 L648.2,357.1 L642,355.9 L627.1,362.1 L614.8,365.8 L601,369.5 L590,369.8 L575.2,371.5 L559.4,373.5 Q555,374.5 552.6,373 Z" fill="#fff" stroke="#111" stroke-width="1.5" stroke-linejoin="round"/>
<path d="M667,277 L682.1,280.2 L693.4,285 L701,291 L703,296" stroke="#111" stroke-width="2.2" fill="none" stroke-linejoin="round" stroke-linecap="round" />
<path d="M553.5,371.5 Q550.5,367 552,361 Q555,352 560.5,346 Q567,337 576,330 L592,320.5 L620.4,304 L643,292.5 L666,280.5" fill="none" stroke="#111" stroke-width="4.6" stroke-linejoin="round" stroke-linecap="round"/>
<path d="M553.5,371.5 Q550.5,367 552,361 Q555,352 560.5,346 Q567,337 576,330 L592,320.5 L620.4,304 L643,292.5 L666,280.5" fill="none" stroke="#fff" stroke-width="1.9" stroke-linejoin="round" stroke-linecap="round"/>
<path d="M559,368 Q560,358 565,350 Q572,341 581,334 L597,324.5 L623,309.5 L646,297.5 L668,286.5" stroke="#333" stroke-width="0.8" fill="none" stroke-linejoin="round" stroke-linecap="round" />
<path d="M620,324 Q650,312 684,299.5 L699,299.5 L708.5,305" stroke="#666" stroke-width="0.6" fill="none" stroke-linejoin="round" stroke-linecap="round" />
<path d="M622,344 Q655,333 676,321" stroke="#777" stroke-width="0.6" fill="none" stroke-linejoin="round" stroke-linecap="round" />
<path d="M676.5,290 L684,296" stroke="#666" stroke-width="0.6" fill="none" stroke-linejoin="round" stroke-linecap="round" />
<path d="M669,283 L677,290.5" stroke="#333" stroke-width="0.9" fill="none" stroke-linejoin="round" stroke-linecap="round" />
<path d="M619.6,337 L647.5,310.8" stroke="#111" stroke-width="1.4" fill="none" stroke-linejoin="round" stroke-linecap="round" />
<g transform="translate(685,314.6) rotate(-45)"><rect x="-13.5" y="-2.7" width="27" height="5.4" rx="2.7" fill="#fff" stroke="#111" stroke-width="1.2"/></g>
<path d="M560.8,369.7 L572.1,353.9 L584.5,341.5 L594.7,330.7 L597,329.6" stroke="#111" stroke-width="2.8" fill="none" stroke-linejoin="round" stroke-linecap="round" />
<path d="M597,329.6 L619.6,337" stroke="#111" stroke-width="1.4" fill="none" stroke-linejoin="round" stroke-linecap="round" />
<path d="M563,368.6 L571,357.3 L584.5,343.7 L590,343.5 L618.5,346 L643.2,355.3" stroke="#111" stroke-width="1.8" fill="none" stroke-linejoin="round" stroke-linecap="round" />
<path d="M565.3,366.3 L593.7,362.1 L621,358.4 L643.2,355.3" stroke="#111" stroke-width="1.6" fill="none" stroke-linejoin="round" stroke-linecap="round" />
<path d="M598.7,353.4 L633.3,355.3" stroke="#333" stroke-width="0.8" fill="none" stroke-linejoin="round" stroke-linecap="round" />
<path d="M591.3,344.3 L594.7,352.8 L588,357.3" stroke="#222" stroke-width="0.9" fill="none" stroke-linejoin="round" stroke-linecap="round" />
<path d="M566,367 L590,358" stroke="#222" stroke-width="2.2" fill="none" stroke-linejoin="round" stroke-linecap="round" />
<ellipse cx="604.9" cy="339.8" rx="2.6" ry="3.6" transform="rotate(-30 604.9 339.8)" fill="#fff" stroke="#111" stroke-width="1"/>
<circle cx="589.2" cy="324.8" r="2.2" fill="#fff" stroke="#111" stroke-width="1.2"/>
<circle cx="589.2" cy="324.8" r="0.8" fill="#333"/>
<circle cx="620.4" cy="305.2" r="2.2" fill="#fff" stroke="#111" stroke-width="1.2"/>
<circle cx="620.4" cy="305.2" r="0.8" fill="#333"/>
<circle cx="666.5" cy="279.5" r="2.2" fill="#fff" stroke="#111" stroke-width="1.2"/>
<circle cx="666.5" cy="279.5" r="0.8" fill="#333"/>
<circle cx="555.2" cy="372" r="2" fill="#fff" stroke="#111" stroke-width="1.1"/>
<circle cx="561" cy="370" r="1.8" fill="#fff" stroke="#111" stroke-width="1"/>
<path d="M666.5,281.5 L671,288" stroke="#444" stroke-width="0.7" fill="none" stroke-linejoin="round" stroke-linecap="round" />
<line x1="510.7" y1="345.5" x2="521.0" y2="345.5" stroke="#333" stroke-width="0.7"/>
<line x1="528.8" y1="345.5" x2="538.5" y2="345.5" stroke="#333" stroke-width="0.7"/>
<line x1="510.7" y1="345.5" x2="510.7" y2="369.0" stroke="#333" stroke-width="0.7"/>
<line x1="499.0" y1="369.3" x2="550.0" y2="369.3" stroke="#333" stroke-width="0.7"/>
<line x1="539.5" y1="352.0" x2="552.0" y2="358.0" stroke="#555" stroke-width="0.6"/>
<path d="M643.8,369.3 L616,398.8 Q612.8,403.5 615.5,407 Q618,409 622,407.6 L632,404.2" fill="none" stroke="#111" stroke-width="4.2" stroke-linejoin="round" stroke-linecap="round"/>
<path d="M643.8,369.3 L616,398.8 Q612.8,403.5 615.5,407 Q618,409 622,407.6 L632,404.2" fill="none" stroke="#d8d8d8" stroke-width="2.2" stroke-linejoin="round" stroke-linecap="round"/>
<path d="M631,421.8 Q630.5,416 632.3,412.8 L640,399.9 L650.4,389.5 L660.8,381.7 Q665,379 668.5,379.2 L691.8,385.6 L684,399.9 L676.3,415.4 L671.1,419.3 L645.2,423.1 L634.9,424.4 Q632,424 631,421.8 Z" fill="#fff" stroke="#111" stroke-width="1.3" stroke-linejoin="round"/>
<path d="M631,421.8 Q630.5,416 632.3,412.8 L640,399.9 L650.4,389.5 L660.8,381.7 Q665,379 668.5,379.2 L671.1,383 L661,388 L649,400.5 L637,421 Z" fill="#e2e2e2" stroke="#111" stroke-width="1" stroke-linejoin="round"/>
<path d="M671,383 Q678,388 681.5,397.3" stroke="#555" stroke-width="0.7" fill="none" stroke-linejoin="round" stroke-linecap="round" />
<path d="M637,412 L648,414 L664,406 L682,395" stroke="#777" stroke-width="0.6" fill="none" stroke-linejoin="round" stroke-linecap="round" />
<defs><pattern id="grl" width="2.6" height="3" patternUnits="userSpaceOnUse" patternTransform="rotate(-35)"><rect width="2.6" height="3" fill="#e6e6e6"/><path d="M0.6,0 V3" stroke="#222" stroke-width="1.1"/></pattern></defs>
<path d="M642.6,415.4 L650.4,410.2 L666,407.6 L663.3,418 L645.2,421.8 Z" fill="url(#grl)" stroke="#111" stroke-width="0.9"/>
<path d="M671,419.1 L703,409.5 L715.6,406.7" stroke="#111" stroke-width="2" fill="none" stroke-linejoin="round" stroke-linecap="round" />
<path d="M676.8,411.8 L698.7,406 L715.6,406.7" stroke="#222" stroke-width="0.9" fill="none" stroke-linejoin="round" stroke-linecap="round" />
<path d="M704,408 L714,406.5" stroke="#333" stroke-width="1.6" fill="none" stroke-linejoin="round" stroke-linecap="round" />
<ellipse cx="706.8" cy="404.6" rx="2.6" ry="1.9" fill="#fff" stroke="#111" stroke-width="1"/>
<line x1="706.3" y1="409.0" x2="706.3" y2="414.4" stroke="#333" stroke-width="0.8"/>
<line x1="510.7" y1="397.3" x2="588.5" y2="397.3" stroke="#444" stroke-width="0.7"/>
<line x1="598.5" y1="397.3" x2="614.0" y2="397.3" stroke="#333" stroke-width="0.7"/>
<ellipse cx="708.3" cy="349.5" rx="1.9" ry="2.4" fill="#fff" stroke="#111" stroke-width="1.2"/>
<line x1="711.2" y1="340.5" x2="711.2" y2="346.5" stroke="#555" stroke-width="0.7"/>
<g transform="translate(718.2,353.8) rotate(20)"><rect x="-3.8" y="-2.6" width="7.6" height="5.2" rx="1" fill="#fff" stroke="#111" stroke-width="1.1"/><ellipse cx="-3.6" cy="0" rx="1.2" ry="2.5" fill="#fff" stroke="#111" stroke-width="0.9"/><rect x="0" y="-2.6" width="3.8" height="5.2" fill="#333"/></g>
<line x1="723.5" y1="354.5" x2="731.0" y2="354.5" stroke="#333" stroke-width="0.8"/>
<g transform="translate(769.6,354.0) rotate(210.0)"><path d="M2,-1.6 L7.5,-1.3 L8.5,0 L7.5,1.3 L2,1.6 Z" fill="#222"/><path d="M0,-2.9 L2.8,-1.35 L2.8,1.35 L0,2.9 Z" fill="#1a1a1a"/><ellipse cx="0" cy="0" rx="1.25" ry="2.7" fill="#fff" stroke="#111" stroke-width="1"/></g>
<g transform="translate(801.5,369.6) rotate(210.0)"><path d="M2,-1.6 L7.5,-1.3 L8.5,0 L7.5,1.3 L2,1.6 Z" fill="#222"/><path d="M0,-2.9 L2.8,-1.35 L2.8,1.35 L0,2.9 Z" fill="#1a1a1a"/><ellipse cx="0" cy="0" rx="1.25" ry="2.7" fill="#fff" stroke="#111" stroke-width="1"/></g>
<g transform="translate(721.8,378.0) rotate(210.0)"><path d="M2,-1.6 L7.5,-1.3 L8.5,0 L7.5,1.3 L2,1.6 Z" fill="#222"/><path d="M0,-2.9 L2.8,-1.35 L2.8,1.35 L0,2.9 Z" fill="#1a1a1a"/><ellipse cx="0" cy="0" rx="1.25" ry="2.7" fill="#fff" stroke="#111" stroke-width="1"/></g>
<g transform="translate(696.3,401.2) rotate(210.0)"><path d="M2,-1.6 L7.5,-1.3 L8.5,0 L7.5,1.3 L2,1.6 Z" fill="#222"/><path d="M0,-2.9 L2.8,-1.35 L2.8,1.35 L0,2.9 Z" fill="#1a1a1a"/><ellipse cx="0" cy="0" rx="1.25" ry="2.7" fill="#fff" stroke="#111" stroke-width="1"/></g>
<g transform="translate(736.6,421.8) rotate(210.0)"><path d="M2,-1.6 L7.5,-1.3 L8.5,0 L7.5,1.3 L2,1.6 Z" fill="#222"/><path d="M0,-2.9 L2.8,-1.35 L2.8,1.35 L0,2.9 Z" fill="#1a1a1a"/><ellipse cx="0" cy="0" rx="1.25" ry="2.7" fill="#fff" stroke="#111" stroke-width="1"/></g>
<g transform="translate(773.8,419.8) rotate(210.0)"><path d="M2,-1.6 L7.5,-1.3 L8.5,0 L7.5,1.3 L2,1.6 Z" fill="#222"/><path d="M0,-2.9 L2.8,-1.35 L2.8,1.35 L0,2.9 Z" fill="#1a1a1a"/><ellipse cx="0" cy="0" rx="1.25" ry="2.7" fill="#fff" stroke="#111" stroke-width="1"/></g>
<g transform="translate(692.8,437.2) rotate(210.0)"><path d="M2,-1.6 L7.5,-1.3 L8.5,0 L7.5,1.3 L2,1.6 Z" fill="#222"/><path d="M0,-2.9 L2.8,-1.35 L2.8,1.35 L0,2.9 Z" fill="#1a1a1a"/><ellipse cx="0" cy="0" rx="1.25" ry="2.7" fill="#fff" stroke="#111" stroke-width="1"/></g>
<g transform="translate(656.9,444.0) rotate(210.0)"><path d="M2,-1.6 L7.5,-1.3 L8.5,0 L7.5,1.3 L2,1.6 Z" fill="#222"/><path d="M0,-2.9 L2.8,-1.35 L2.8,1.35 L0,2.9 Z" fill="#1a1a1a"/><ellipse cx="0" cy="0" rx="1.25" ry="2.7" fill="#fff" stroke="#111" stroke-width="1"/></g>
<line x1="771.9" y1="357.5" x2="771.9" y2="364.5" stroke="#333" stroke-width="0.8"/>
<line x1="802.9" y1="372.5" x2="802.9" y2="380.0" stroke="#333" stroke-width="0.7" stroke-dasharray="1.2 1"/>
<line x1="726.5" y1="377.7" x2="735.3" y2="377.7" stroke="#333" stroke-width="0.8"/>
<line x1="697.0" y1="396.0" x2="702.0" y2="389.0" stroke="#333" stroke-width="0.7"/>
<line x1="740.5" y1="421.6" x2="745.0" y2="421.6" stroke="#333" stroke-width="0.8"/>
<line x1="778.0" y1="419.8" x2="786.0" y2="419.8" stroke="#333" stroke-width="0.8"/>
<line x1="696.5" y1="437.5" x2="705.5" y2="437.5" stroke="#333" stroke-width="0.8"/>
<line x1="660.5" y1="444.6" x2="668.0" y2="444.6" stroke="#333" stroke-width="0.8"/>
<line x1="709.0" y1="303.4" x2="797.0" y2="365.5" stroke="#333" stroke-width="0.7"/>
<line x1="667.5" y1="282.0" x2="765.5" y2="350.8" stroke="#333" stroke-width="0.7"/>
<line x1="620.4" y1="306.3" x2="716.8" y2="374.6" stroke="#333" stroke-width="0.7"/>
<line x1="691.6" y1="341.8" x2="705.8" y2="348.3" stroke="#333" stroke-width="0.7"/>
<line x1="674.3" y1="349.2" x2="770.0" y2="416.5" stroke="#333" stroke-width="0.7"/>
<line x1="652.0" y1="361.6" x2="732.5" y2="418.8" stroke="#333" stroke-width="0.7"/>
<line x1="606.0" y1="408.0" x2="653.0" y2="441.0" stroke="#333" stroke-width="0.7"/>
<line x1="670.0" y1="420.0" x2="689.0" y2="434.5" stroke="#333" stroke-width="0.7"/>
<line x1="684.0" y1="393.0" x2="691.0" y2="397.0" stroke="#333" stroke-width="0.7"/>
<line x1="589.2" y1="325.5" x2="604.0" y2="337.0" stroke="#333" stroke-width="0.6"/>
<line x1="560.0" y1="374.0" x2="576.0" y2="386.0" stroke="#333" stroke-width="0.6"/>
<line x1="604.0" y1="373.9" x2="619.8" y2="385.2" stroke="#333" stroke-width="0.6"/>
<line x1="653.7" y1="361.5" x2="678.5" y2="381.8" stroke="#333" stroke-width="0.6"/>
<g transform="translate(80.6,441.4) rotate(-28.6)"><path d="M0,0 L7.5,-7.6 L10.5,-3.6 L25.7,-3.6 L25.7,3.6 L10.5,3.6 L8,8.2 Z" fill="#111"/><text x="26.8" y="4.3" font-size="12" font-weight="bold" stroke="#111" stroke-width="0.6">FR.</text></g>
<text x="109.1" y="115.0" font-size="12" text-anchor="middle">7</text>
<text x="143.9" y="129.5" font-size="12" text-anchor="middle">19</text>
<text x="175.4" y="136.9" font-size="12" text-anchor="middle">13</text>
<text x="88.0" y="193.8" font-size="12" text-anchor="middle">14</text>
<text x="224.5" y="114.3" font-size="12" text-anchor="middle">1</text>
<text x="248.6" y="112.3" font-size="12" text-anchor="middle">1</text>
<text x="276.0" y="99.1" font-size="12" text-anchor="middle">1</text>
<text x="259.0" y="129.3" font-size="12" text-anchor="middle">18</text>
<text x="296.6" y="115.7" font-size="12" text-anchor="middle">17</text>
<text x="314.7" y="98.8" font-size="12" text-anchor="middle">18</text>
<text x="348.6" y="89.5" font-size="12" text-anchor="middle">17</text>
<text x="264.8" y="201.9" font-size="12" text-anchor="middle">24</text>
<text x="234.9" y="220.3" font-size="12" text-anchor="middle">8</text>
<text x="137.7" y="266.1" font-size="12" text-anchor="middle">24</text>
<text x="451.5" y="148.3" font-size="12" text-anchor="middle">25</text>
<text x="471.1" y="155.1" font-size="12" text-anchor="middle">15</text>
<text x="449.6" y="180.8" font-size="12" text-anchor="middle">20</text>
<text x="424.0" y="193.3" font-size="12" text-anchor="middle">20</text>
<text x="359.0" y="230.8" font-size="12" text-anchor="middle">20</text>
<text x="571.5" y="193.1" font-size="12" text-anchor="middle">2</text>
<text x="584.7" y="222.8" font-size="12" text-anchor="middle">22</text>
<text x="613.1" y="249.8" font-size="12" text-anchor="middle">22</text>
<text x="400.8" y="280.1" font-size="12" text-anchor="middle">3</text>
<text x="354.0" y="310.3" font-size="12" text-anchor="middle">9</text>
<text x="455.0" y="313.8" font-size="12" text-anchor="middle">22</text>
<text x="478.3" y="279.3" font-size="12" text-anchor="middle">6</text>
<text x="562.4" y="294.3" font-size="12" text-anchor="middle">21</text>
<text x="539.5" y="315.3" font-size="12" text-anchor="middle">21</text>
<text x="484.4" y="329.0" font-size="12" text-anchor="middle">21</text>
<text x="524.9" y="349.8" font-size="12" text-anchor="middle">4</text>
<text x="493.9" y="373.1" font-size="12" text-anchor="middle">11</text>
<text x="593.0" y="401.6" font-size="12" text-anchor="middle">5</text>
<text x="711.2" y="339.1" font-size="12" text-anchor="middle">26</text>
<text x="740.2" y="359.5" font-size="12" text-anchor="middle">12</text>
<text x="771.9" y="376.3" font-size="12" text-anchor="middle">22</text>
<text x="802.9" y="392.8" font-size="12" text-anchor="middle">22</text>
<text x="743.6" y="382.0" font-size="12" text-anchor="middle">22</text>
<text x="703.0" y="387.8" font-size="12" text-anchor="middle">22</text>
<text x="753.5" y="425.8" font-size="12" text-anchor="middle">22</text>
<text x="794.4" y="424.3" font-size="12" text-anchor="middle">22</text>
<text x="714.0" y="442.7" font-size="12" text-anchor="middle">22</text>
<text x="707.4" y="426.6" font-size="12" text-anchor="middle">10</text>
<text x="676.3" y="449.4" font-size="12" text-anchor="middle">22</text>
<text x="170.5" y="259.2" font-size="12.5" font-weight="bold" text-anchor="middle" stroke="#111" stroke-width="0.55" letter-spacing="0">E-2</text>
<text x="394.5" y="207.3" font-size="12.5" font-weight="bold" text-anchor="middle" stroke="#111" stroke-width="0.55" letter-spacing="0.6">E-17-10</text>
<text x="778.0" y="450.6" font-size="8.8" text-anchor="middle">K1Y3F2800</text>
</svg></body></html>
